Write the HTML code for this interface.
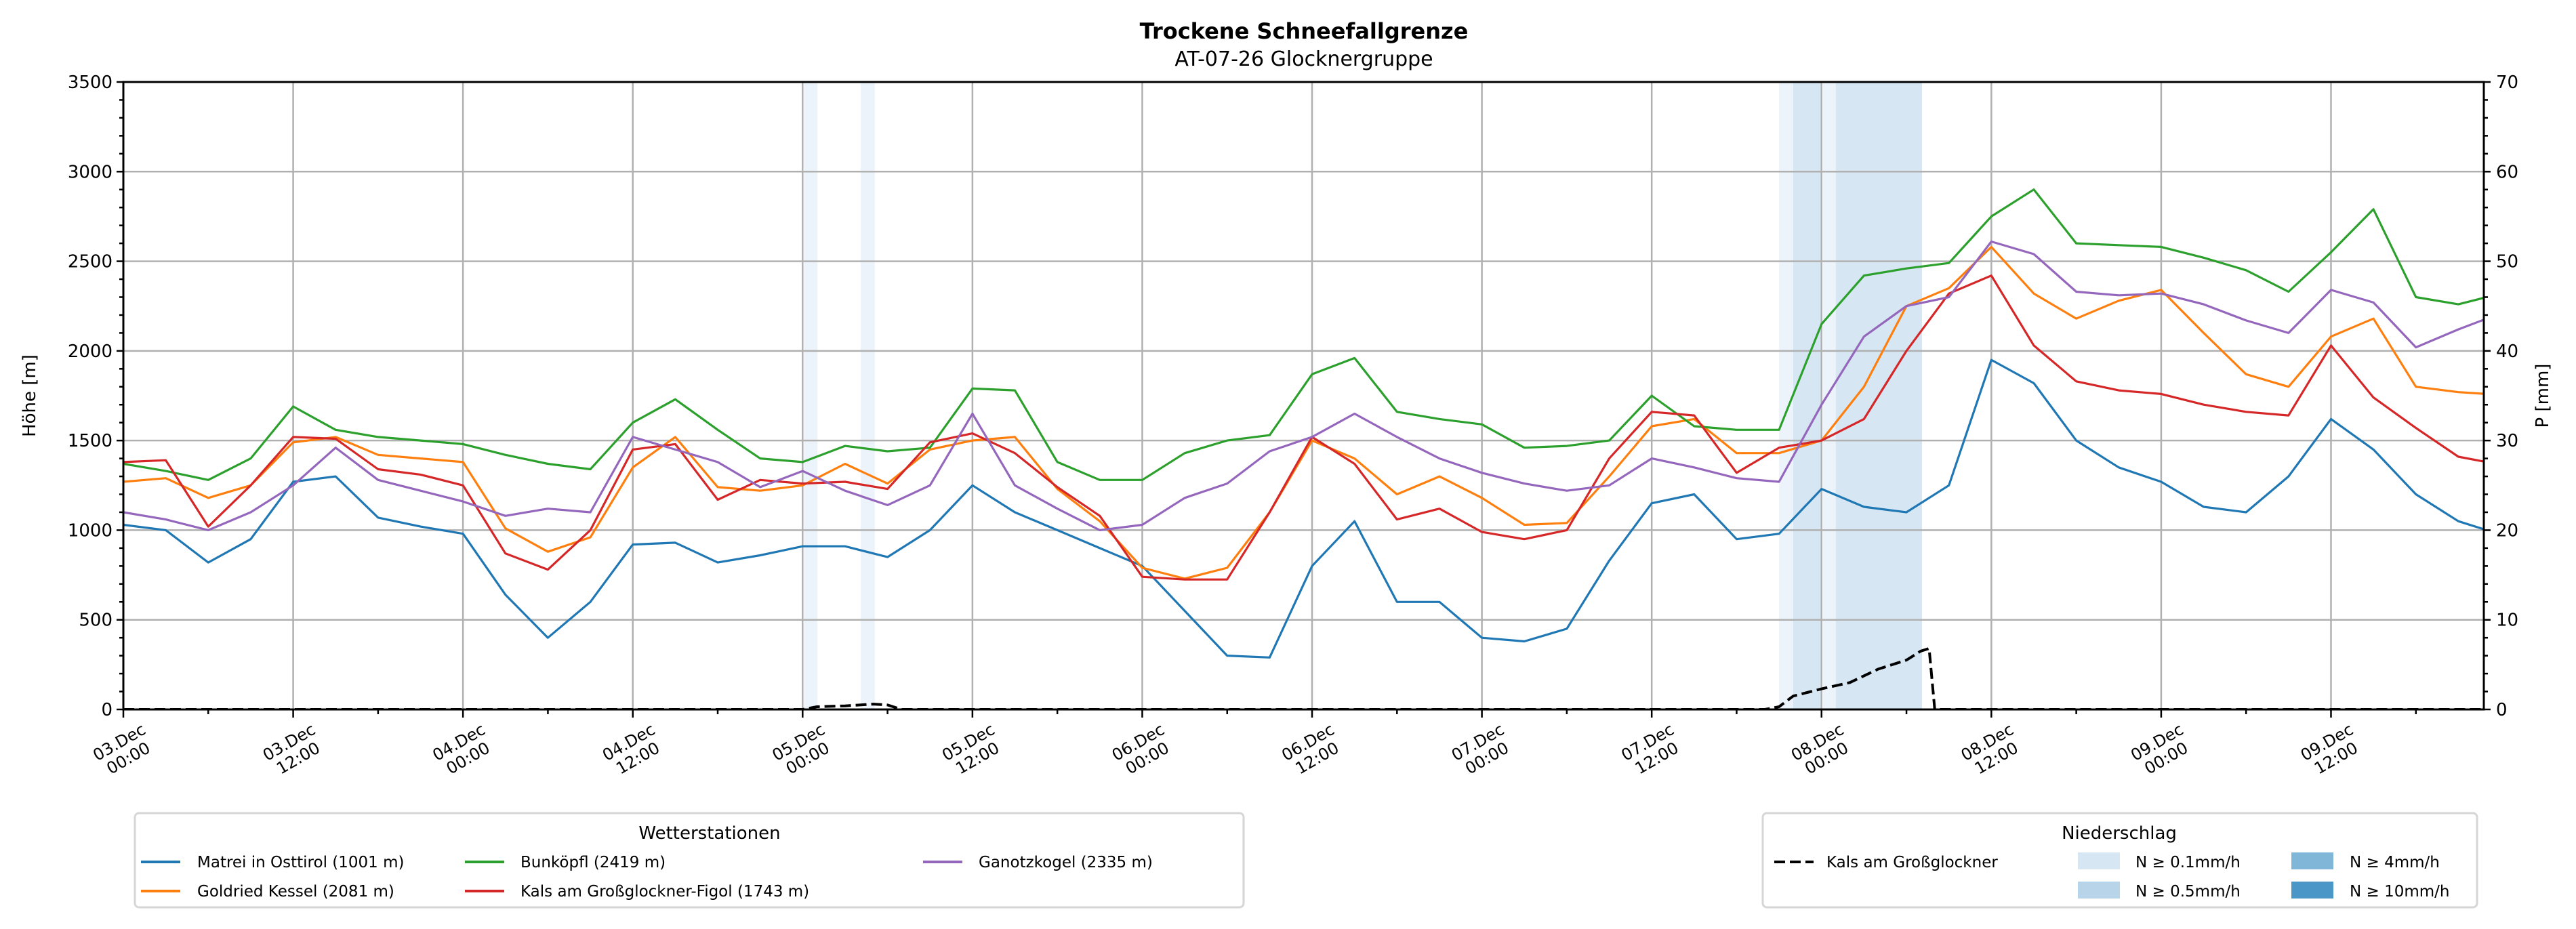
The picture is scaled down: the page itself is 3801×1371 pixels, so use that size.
<!DOCTYPE html>
<html><head><meta charset="utf-8">
<style>
html,body{margin:0;padding:0;background:#fff;}
svg{display:block;font-family:"DejaVu Sans","Liberation Sans",sans-serif;}
</style></head>
<body>
<svg id="chart" width="3801" height="1371" viewBox="0 0 3801 1371" xmlns="http://www.w3.org/2000/svg">
<defs><clipPath id="plotclip"><rect x="182" y="121" width="3483" height="926"/></clipPath></defs>
<text x="1924" y="57" font-size="32" font-weight="bold" text-anchor="middle">Trockene Schneefallgrenze</text>
<text x="1924" y="97" font-size="30" text-anchor="middle">AT-07-26 Glocknergruppe</text>
<g id="bands" clip-path="url(#plotclip)"></g>
<g id="grid"></g>
<g id="series" clip-path="url(#plotclip)"></g>
<g id="axes"></g>
<text transform="translate(52,584) rotate(-90)" font-size="26" text-anchor="middle">Höhe [m]</text>
<text transform="translate(3760,584) rotate(-90)" font-size="26" text-anchor="middle">P [mm]</text>

<g>
<rect x="199" y="1200" width="1636" height="139" rx="6" fill="#fff" stroke="#d6d6d6" stroke-width="3"/>
<text x="1047" y="1238" font-size="26" text-anchor="middle">Wetterstationen</text>
<g><line x1="208" y1="1272" x2="266" y2="1272" stroke="#1f77b4" stroke-width="4"/><text x="291" y="1280" font-size="23">Matrei in Osttirol (1001 m)</text></g>
<g><line x1="208" y1="1315" x2="266" y2="1315" stroke="#ff7f0e" stroke-width="4"/><text x="291" y="1323" font-size="23">Goldried Kessel (2081 m)</text></g>
<g><line x1="686" y1="1272" x2="744" y2="1272" stroke="#2ca02c" stroke-width="4"/><text x="768" y="1280" font-size="23">Bunköpfl (2419 m)</text></g>
<g><line x1="686" y1="1315" x2="744" y2="1315" stroke="#d62728" stroke-width="4"/><text x="768" y="1323" font-size="23">Kals am Großglockner-Figol (1743 m)</text></g>
<g><line x1="1362" y1="1272" x2="1420" y2="1272" stroke="#9467bd" stroke-width="4"/><text x="1444" y="1280" font-size="23">Ganotzkogel (2335 m)</text></g>
</g>

<g>
<rect x="2601" y="1200" width="1054" height="139" rx="6" fill="#fff" stroke="#d6d6d6" stroke-width="3"/>
<text x="3127" y="1238" font-size="26" text-anchor="middle">Niederschlag</text>
<g><line x1="2618" y1="1272" x2="2676" y2="1272" stroke="#000" stroke-width="4" stroke-dasharray="16,7"/><text x="2695" y="1280" font-size="23">Kals am Großglockner</text></g>
<g><rect x="3066" y="1258" width="62" height="25" fill="#d6e6f3"/><text x="3151" y="1280" font-size="23">N ≥ 0.1mm/h</text></g>
<g><rect x="3066" y="1301" width="62" height="25" fill="#b8d4e9"/><text x="3151" y="1323" font-size="23">N ≥ 0.5mm/h</text></g>
<g><rect x="3381" y="1258" width="62" height="25" fill="#80b7d8"/><text x="3467" y="1280" font-size="23">N ≥ 4mm/h</text></g>
<g><rect x="3381" y="1301" width="62" height="25" fill="#4a96c7"/><text x="3467" y="1323" font-size="23">N ≥ 10mm/h</text></g>
</g>

<script>
const hours = [0,3,6,9,12,15,18,21,24,27,30,33,36,39,42,45,48,51,54,57,60,63,66,69,72,75,78,81,84,87,90,93,96,99,102,105,108,111,114,117,120,123,126,129,132,135,138,141,144,147,150,153,156,159,162,165,167];
const matrei = [1030,1000,820,950,1270,1300,1070,1020,980,640,400,600,920,930,820,860,910,910,850,1000,1250,1100,1000,900,800,550,300,290,800,1050,600,600,400,380,450,830,1150,1200,950,980,1230,1130,1100,1250,1950,1820,1500,1350,1270,1130,1100,1300,1620,1450,1200,1050,1000];
const goldried = [1270,1290,1180,1250,1490,1520,1420,1400,1380,1010,880,960,1350,1520,1240,1220,1250,1370,1260,1450,1500,1520,1230,1050,790,730,790,1100,1500,1400,1200,1300,1180,1030,1040,1300,1580,1620,1430,1430,1500,1800,2250,2350,2580,2320,2180,2280,2340,2100,1870,1800,2080,2180,1800,1770,1760];
const bunkoepfl = [1370,1330,1280,1400,1690,1560,1520,1500,1480,1420,1370,1340,1600,1730,1560,1400,1380,1470,1440,1460,1790,1780,1380,1280,1280,1430,1500,1530,1870,1960,1660,1620,1590,1460,1470,1500,1750,1580,1560,1560,2150,2420,2460,2490,2750,2900,2600,2590,2580,2520,2450,2330,2550,2790,2300,2260,2300];
const kals = [1380,1390,1020,1250,1520,1510,1340,1310,1250,870,780,1000,1450,1480,1170,1280,1260,1270,1230,1490,1540,1430,1240,1080,740,725,725,1100,1520,1370,1060,1120,990,950,1000,1400,1660,1640,1320,1460,1500,1620,2000,2320,2420,2030,1830,1780,1760,1700,1660,1640,2030,1740,1570,1410,1380];
const ganotz = [1100,1060,1000,1100,1250,1460,1280,1220,1160,1080,1120,1100,1520,1450,1380,1240,1330,1220,1140,1250,1650,1250,1120,1000,1030,1180,1260,1440,1520,1650,1520,1400,1320,1260,1220,1250,1400,1350,1290,1270,1700,2080,2250,2300,2610,2540,2330,2310,2320,2260,2170,2100,2340,2270,2020,2120,2180];
const precipHours = [0,48,49,51,53,54,55,116,117,118,120,122,124,126,127,127.6,128,167];
const precipValues = [0,0,0.3,0.4,0.6,0.5,0,0,0.3,1.5,2.3,3,4.5,5.5,6.5,6.8,0,0];
const bandStart = [48.1,52.1,117,118,120.1,121];
const bandEnd = [49.05,53.1,118,120,121,127.1];
const bandLevel = [0,0,0,1,0,1];
const yTicks = [0,500,1000,1500,2000,2500,3000,3500];
const y2Ticks = [0,10,20,30,40,50,60,70];
const xTickHours = [0,12,24,36,48,60,72,84,96,108,120,132,144,156];
const xTickLabels = [["03.Dec","00:00"],["03.Dec","12:00"],["04.Dec","00:00"],["04.Dec","12:00"],["05.Dec","00:00"],["05.Dec","12:00"],["06.Dec","00:00"],["06.Dec","12:00"],["07.Dec","00:00"],["07.Dec","12:00"],["08.Dec","00:00"],["08.Dec","12:00"],["09.Dec","00:00"],["09.Dec","12:00"]];

const NS="http://www.w3.org/2000/svg";
const L=182,R=3665,T=121,B=1047,XMAX=166.8;
const x=h=>L+h*(R-L)/XMAX;
const y=v=>B-v*(B-T)/3500;
const y2=v=>B-v*(B-T)/70;
function mk(tag,attrs,parent){const e=document.createElementNS(NS,tag);for(const k in attrs)e.setAttribute(k,attrs[k]);parent.appendChild(e);return e;}
const gb=document.getElementById('bands'),gg=document.getElementById('grid'),gs=document.getElementById('series'),ga=document.getElementById('axes');
const bandColors=['#edf3fa','#d6e6f3'];
bandStart.forEach((s,i)=>{const r=mk('rect',{x:x(s),y:T,width:x(bandEnd[i])-x(s),height:B-T,fill:bandColors[bandLevel[i]]},gb);

});
xTickHours.forEach(h=>{if(h>0){const l=mk('line',{x1:x(h),x2:x(h),y1:T,y2:B,stroke:'#b0b0b0','stroke-width':2.5},gg);

}});
yTicks.forEach(v=>{if(v>0&&v<3500){const l=mk('line',{x1:L,x2:R,y1:y(v),y2:y(v),stroke:'#b0b0b0','stroke-width':2.5},gg);

}});
const series=[['matrei',matrei,'#1f77b4'],['goldried',goldried,'#ff7f0e'],['bunkoepfl',bunkoepfl,'#2ca02c'],['kals',kals,'#d62728'],['ganotzkogel',ganotz,'#9467bd']];
series.forEach(([n,vals,c])=>{const p=mk('path',{d:vals.map((v,i)=>(i?'L':'M')+x(hours[i]).toFixed(1)+','+y(v).toFixed(1)).join(''),fill:'none',stroke:c,'stroke-width':3.2,'stroke-linejoin':'round'},gs);

});
const pp=mk('path',{d:precipValues.map((v,i)=>(i?'L':'M')+x(precipHours[i]).toFixed(1)+','+y2(v).toFixed(1)).join(''),fill:'none',stroke:'#000','stroke-width':4,'stroke-dasharray':'16,7'},gs);


const fr=mk('rect',{x:L,y:T,width:R-L,height:B-T,fill:'none',stroke:'#000','stroke-width':3},ga);


for(let v=0;v<=3500;v+=100){const maj=v%500===0;mk('line',{x1:L-(maj?10:6),x2:L,y1:y(v),y2:y(v),stroke:'#000','stroke-width':2.5},ga);}
yTicks.forEach(v=>{const t=mk('text',{x:L-16,y:y(v)+9,'font-size':26,'text-anchor':'end'},ga);t.textContent=v;

});
for(let v=0;v<=70;v+=2){const maj=v%10===0;mk('line',{x1:R,x2:R+(maj?10:6),y1:y2(v),y2:y2(v),stroke:'#000','stroke-width':2.5},ga);}
y2Ticks.forEach(v=>{const t=mk('text',{x:R+18,y:y2(v)+9,'font-size':26,'text-anchor':'start'},ga);t.textContent=v;

});
for(let h=0;h<=XMAX;h+=6){const maj=h%12===0;mk('line',{x1:x(h),x2:x(h),y1:B,y2:B+(maj?12:7),stroke:'#000','stroke-width':2.5},ga);}
xTickHours.forEach((h,i)=>{const g=mk('g',{transform:`translate(${x(h)},1106) rotate(-30)`},ga);


const a=mk('text',{x:0,y:-4,'font-size':24,'text-anchor':'middle'},g);a.textContent=xTickLabels[i][0];
const b=mk('text',{x:0,y:23,'font-size':24,'text-anchor':'middle'},g);b.textContent=xTickLabels[i][1];});
</script>
</svg>
</body></html>
